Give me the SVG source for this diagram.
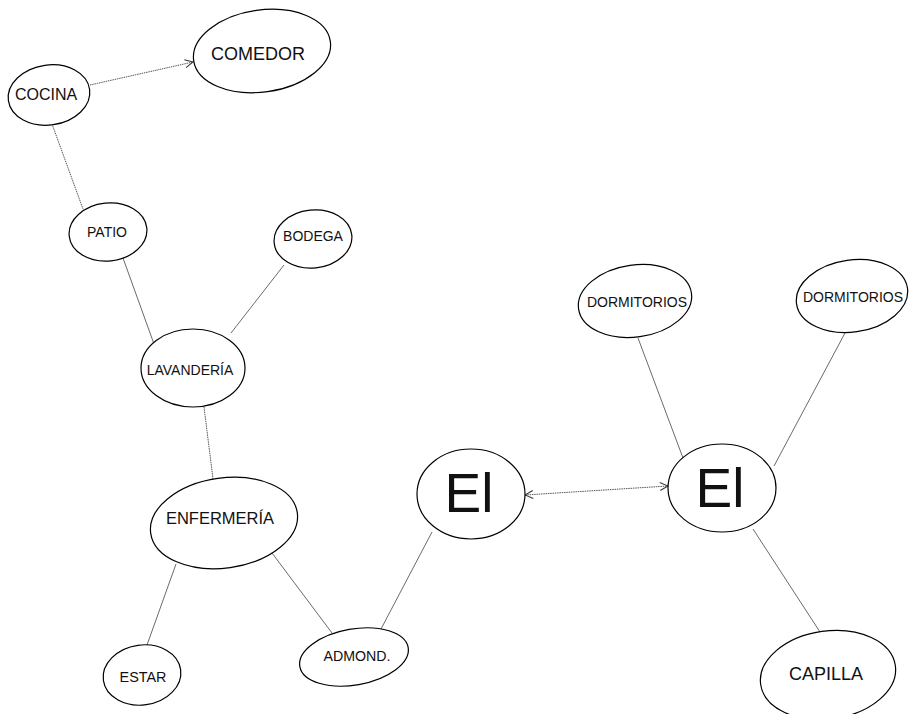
<svg xmlns="http://www.w3.org/2000/svg" width="909" height="714" viewBox="0 0 909 714">
<style>
.n{fill:#fff;stroke:#000;stroke-width:1.2}
.t{font-family:"Liberation Sans",Arial,sans-serif;fill:#111;text-anchor:middle}
.c{stroke:#444;stroke-width:0.8;fill:none}
.d{stroke:#444;stroke-width:0.9;fill:none;stroke-dasharray:1.5,0.8}
</style>
<defs>
<marker id="ah" markerWidth="10" markerHeight="10" refX="9" refY="5" orient="auto-start-reverse" markerUnits="userSpaceOnUse">
<path d="M1,1 L9,5 L1,9" fill="none" stroke="#333" stroke-width="1"/>
</marker>
</defs>
<g id="connectors">
<line class="d" x1="90" y1="85" x2="193" y2="62" marker-end="url(#ah)"/>
<line class="d" x1="52" y1="124" x2="83" y2="209"/>
<line class="c" x1="123" y1="258" x2="154" y2="344"/>
<line class="c" x1="284" y1="265" x2="231" y2="333"/>
<line class="d" x1="204" y1="407" x2="213" y2="479"/>
<line class="c" x1="176" y1="564" x2="147" y2="645"/>
<line class="c" x1="272" y1="553" x2="332" y2="633"/>
<line class="c" x1="381" y1="629" x2="432" y2="532"/>
<line class="d" x1="525" y1="495" x2="668" y2="486" marker-start="url(#ah)" marker-end="url(#ah)"/>
<line class="c" x1="638" y1="338" x2="683" y2="458"/>
<line class="c" x1="845" y1="333" x2="774" y2="466"/>
<line class="c" x1="753" y1="529" x2="820" y2="632"/>
</g>
<g id="cocina"><ellipse class="n" cx="49" cy="95" rx="41" ry="30" transform="rotate(-8 49 95)"/><text class="t" x="46" y="100" font-size="16">COCINA</text></g>
<g id="comedor"><ellipse class="n" cx="262" cy="51" rx="69" ry="41" transform="rotate(-8 262 51)"/><text class="t" x="258" y="60" font-size="18">COMEDOR</text></g>
<g id="patio"><ellipse class="n" cx="108" cy="232" rx="39" ry="29" transform="rotate(-6 108 232)"/><text class="t" x="107" y="237" font-size="14">PATIO</text></g>
<g id="bodega"><ellipse class="n" cx="313" cy="239" rx="39" ry="29" transform="rotate(-6 313 239)"/><text class="t" x="313" y="241" font-size="14">BODEGA</text></g>
<g id="lavanderia"><ellipse class="n" cx="193" cy="368" rx="52" ry="39"/><text class="t" x="190" y="375" font-size="14">LAVANDERÍA</text></g>
<g id="enfermeria"><ellipse class="n" cx="224" cy="523" rx="74" ry="45" transform="rotate(-8 224 523)"/><text class="t" x="220" y="524" font-size="16.5">ENFERMERÍA</text></g>
<g id="estar"><ellipse class="n" cx="142" cy="675" rx="39" ry="30" transform="rotate(-8 142 675)"/><text class="t" x="143" y="682" font-size="14.4">ESTAR</text></g>
<g id="admond"><ellipse class="n" cx="354" cy="657" rx="55" ry="28" transform="rotate(-10 354 657)"/><text class="t" x="357" y="661" font-size="14.2">ADMOND.</text></g>
<g id="el1"><ellipse class="n" cx="471" cy="494" rx="54" ry="45"/><text class="t" x="469" y="512" font-size="55">El</text></g>
<g id="el2"><ellipse class="n" cx="722" cy="488" rx="54" ry="44"/><text class="t" x="720" y="507" font-size="55">El</text></g>
<g id="dorm1"><ellipse class="n" cx="635" cy="301" rx="57" ry="36" transform="rotate(-8 635 301)"/><text class="t" x="637" y="307" font-size="14">DORMITORIOS</text></g>
<g id="dorm2"><ellipse class="n" cx="852" cy="296" rx="56" ry="36" transform="rotate(-8 852 296)"/><text class="t" x="853" y="302" font-size="14">DORMITORIOS</text></g>
<g id="capilla"><ellipse class="n" cx="828" cy="675" rx="68" ry="44" transform="rotate(-8 828 675)"/><text class="t" x="826" y="680" font-size="18">CAPILLA</text></g>
</svg>
